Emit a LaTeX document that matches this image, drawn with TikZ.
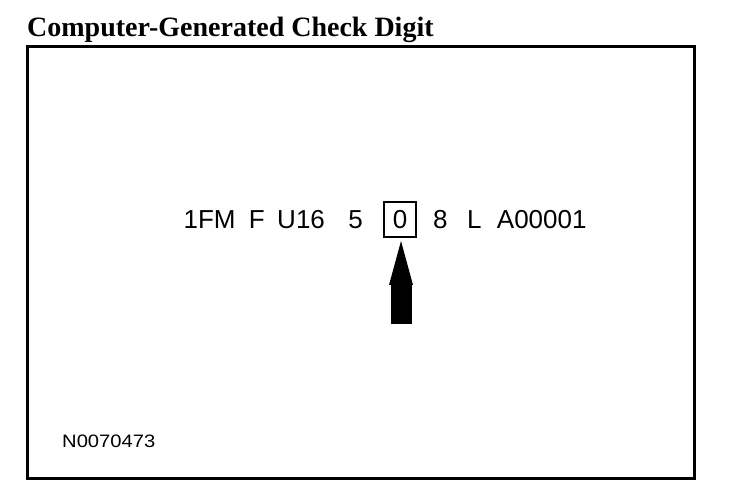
\documentclass[tikz,border=0pt]{standalone}
\usepackage{fontspec}
\setmainfont{Liberation Serif}
\newfontfamily\arialfont{Liberation Sans}
\newfontfamily\widefont[FakeStretch=1.12]{Liberation Sans}
\usepackage{tikz}
\usetikzlibrary{arrows.meta, positioning}

\begin{document}
\begin{tikzpicture}[
  x=1pt, y=-1pt,
  title/.style={font=\fontsize{28}{30}\selectfont\bfseries, anchor=base west, inner sep=0pt},
  vin/.style={font=\arialfont\fontsize{26}{28}\selectfont, inner sep=0pt},
  digitbox/.style={vin, draw, line width=2pt, minimum width=32pt, minimum height=35pt},
  frame/.style={draw, line width=3pt},
  bigarrow/.style={-{Triangle[length=44pt, width=24pt, line width=0pt]}, line width=21pt, shorten >=3pt},
]
\useasboundingbox (0,0) rectangle (736,502);

\node[title] (head) at (27,37) {Computer-Generated Check Digit};
\draw[frame] (27,47) rectangle (694,478);

% the VIN, group by group
\node[digitbox] (chk) at (400,219.5) {0};
\node[vin, left=20pt of chk] (mfr5) {5};
\node[vin, left=23pt of mfr5] (line) {U16};
\node[vin, left=12pt of line] (brake) {F};
\node[vin, left=13pt of brake] (wmi) {1FM};
\node[vin, right=16pt of chk] (year) {8};
\node[vin, right=19pt of year] (plant) {L};
\node[vin, right=15pt of plant] (serial) {A00001};

\coordinate (tail) at (401,324);
\draw[bigarrow] (tail) -- (chk.south -| tail);

\node[vin, font=\widefont\fontsize{18}{20}\selectfont, anchor=base west] (ref) at (62,447) {N0070473};

\end{tikzpicture}
\end{document}
